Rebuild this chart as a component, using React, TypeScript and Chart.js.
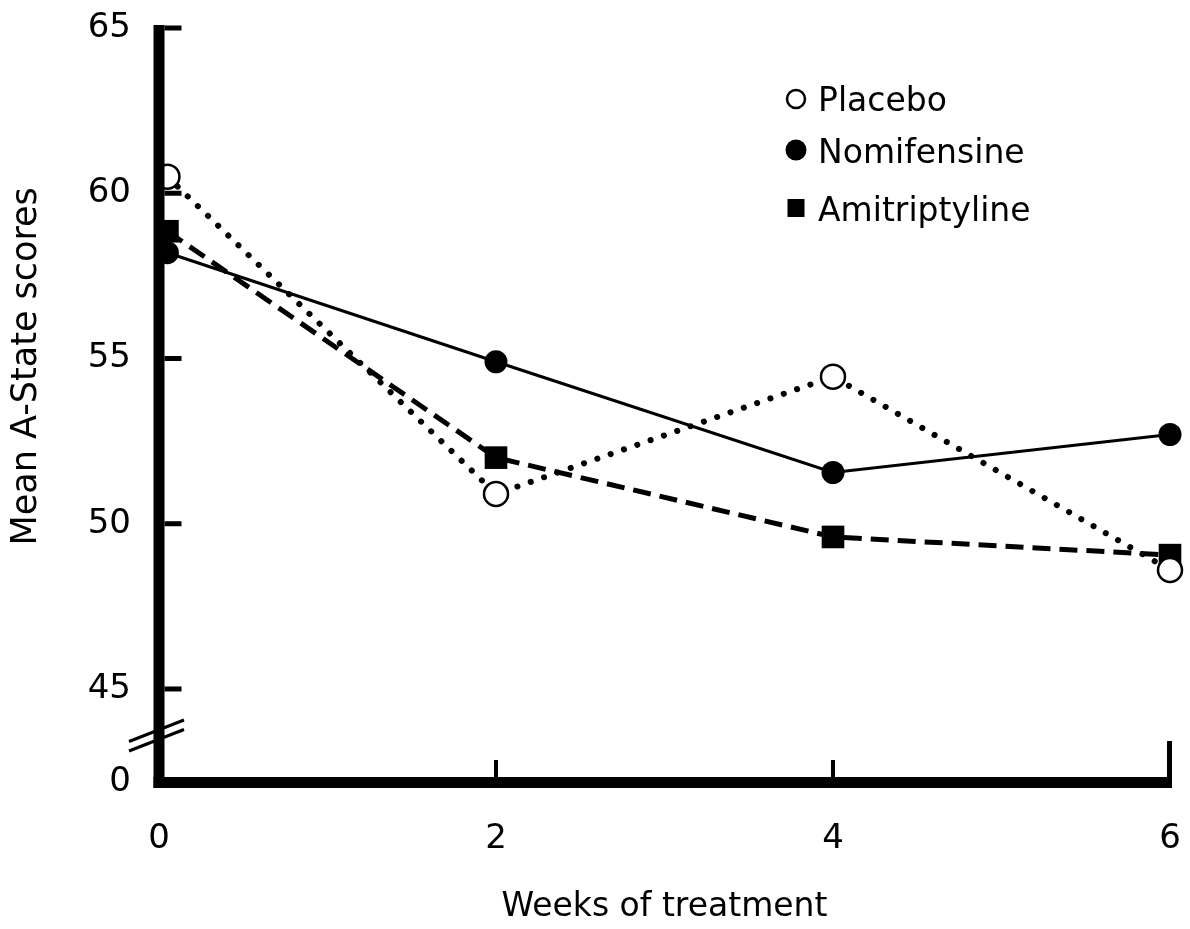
import React, { useEffect, useRef } from 'react';
import { Chart, registerables } from 'chart.js';

Chart.register(...registerables);

// ---- data ----
const weeks = [0.05, 2, 4, 6];
const placebo = [60.5, 50.9, 54.45, 48.6];
const nomifensine = [58.2, 54.9, 51.55, 52.7];
const amitriptyline = [58.85, 52.0, 49.6, 49.05];
const seriesLabels = ['Placebo', 'Nomifensine', 'Amitriptyline'];
const xTicks = [0, 2, 4, 6];
const yTicks = [45, 50, 55, 60, 65];
const yAxisBottom = 42.17; // bottom of the broken axis, labelled "0"
const yBreakLabel = '0';
const yBreakAt = 43.6;
const xTitle = 'Weeks of treatment';
const yTitle = 'Mean A-State scores';

const FONT = 'DejaVu Sans';

const axesPlugin = {
  id: 'brokenAxes',
  afterDatasetsDraw(chart: any) {
    const { ctx } = chart;
    const x = chart.scales.x;
    const y = chart.scales.y;
    const x0 = x.getPixelForValue(xTicks[0]);
    const xEnd = x.getPixelForValue(xTicks[xTicks.length - 1]);
    const yTop = y.getPixelForValue(yTicks[yTicks.length - 1]);
    const yBot = y.getPixelForValue(yAxisBottom);
    const aw = 11;
    ctx.save();
    ctx.fillStyle = '#000';
    // vertical axis
    ctx.fillRect(x0 - aw / 2, yTop - 3, aw, yBot - yTop + 3 + aw / 2);
    // horizontal axis
    ctx.fillRect(x0 - aw / 2, yBot - aw / 2, xEnd + 2 - (x0 - aw / 2), aw);
    // inward y ticks
    yTicks.forEach((v) => {
      const py = y.getPixelForValue(v);
      ctx.fillRect(x0 + aw / 2, py - 2.5, 17, 5);
    });
    // upward x ticks
    const xt = xTicks.slice(1);
    xt.forEach((v, i) => {
      const px = x.getPixelForValue(v);
      const last = i === xt.length - 1;
      const h = last ? 36 : 17;
      const w = last ? 5 : 4;
      ctx.fillRect(last ? px + 2 - w : px - w / 2, yBot - aw / 2 - h, w, h);
    });
    // axis break marks
    const yb = y.getPixelForValue(yBreakAt);
    ctx.strokeStyle = '#000';
    ctx.lineWidth = 3;
    [-4.75, 4.75].forEach((o) => {
      ctx.beginPath();
      ctx.moveTo(x0 - 30, yb + o + 11);
      ctx.lineTo(x0 + 25, yb + o - 10.5);
      ctx.stroke();
    });
    ctx.restore();
  },
};

const legendPlugin = {
  id: 'insetLegend',
  afterDraw(chart: any) {
    const { ctx } = chart;
    const mx = 796;
    const tx = 818;
    const rows = [99, 151, 209];
    ctx.save();
    ctx.font = `33px "${FONT}"`;
    ctx.textBaseline = 'middle';
    ctx.textAlign = 'left';
    ctx.fillStyle = '#000';
    ctx.strokeStyle = '#000';
    // open circle
    ctx.lineWidth = 2.5;
    ctx.beginPath();
    ctx.arc(mx, rows[0], 9, 0, Math.PI * 2);
    ctx.stroke();
    // filled circle
    ctx.beginPath();
    ctx.arc(mx, rows[1] - 1, 10.5, 0, Math.PI * 2);
    ctx.fill();
    // filled square
    ctx.fillRect(mx - 8.5, rows[2] - 10, 17, 18);
    seriesLabels.forEach((t, i) => ctx.fillText(t, tx, rows[i] + 3));
    ctx.restore();
  },
};

export default function App() {
  const ref = useRef<HTMLCanvasElement | null>(null);

  useEffect(() => {
    if (!ref.current) return;
    const pts = (vals: number[]) => vals.map((v, i) => ({ x: weeks[i], y: v }));
    const chart = new Chart(ref.current, {
      type: 'line',
      data: {
        datasets: [
          {
            label: seriesLabels[0],
            data: pts(placebo),
            borderColor: '#000',
            borderWidth: 6,
            borderDash: [0.1, 14],
            borderCapStyle: 'round',
            pointStyle: 'circle',
            pointRadius: 12,
            pointBackgroundColor: '#fff',
            pointBorderColor: '#000',
            pointBorderWidth: 2.5,
            tension: 0,
            clip: false,
          } as any,
          {
            label: seriesLabels[1],
            data: pts(nomifensine),
            borderColor: '#000',
            borderWidth: 3,
            pointStyle: 'circle',
            pointRadius: 11.5,
            pointBackgroundColor: '#000',
            pointBorderColor: '#000',
            pointBorderWidth: 0,
            tension: 0,
            clip: false,
          } as any,
          {
            label: seriesLabels[2],
            data: pts(amitriptyline),
            borderColor: '#000',
            borderWidth: 5,
            borderDash: [18, 9],
            pointStyle: 'rect',
            pointRadius: 16,
            pointBackgroundColor: '#000',
            pointBorderColor: '#000',
            pointBorderWidth: 0,
            tension: 0,
            clip: false,
          } as any,
        ],
      },
      options: {
        responsive: false,
        animation: false,
        layout: { padding: { top: 28, right: 20, left: 0, bottom: 0 } },
        plugins: { legend: { display: false }, tooltip: { enabled: false } },
        scales: {
          x: {
            type: 'linear',
            min: xTicks[0],
            max: xTicks[xTicks.length - 1],
            afterBuildTicks: (s: any) => {
              s.ticks = xTicks.map((v) => ({ value: v }));
            },
            grid: { display: false, drawTicks: false },
            border: { display: false },
            ticks: {
              color: '#000',
              font: { family: FONT, size: 34 },
              padding: 36,
              maxRotation: 0,
              autoSkip: false,
              callback: (v: any) => String(v),
            },
            title: {
              display: true,
              text: xTitle,
              color: '#000',
              font: { family: FONT, size: 33 },
              padding: { top: 0, bottom: 2 },
            },
            afterFit: (s: any) => {
              s.height = 146.5;
              s.paddingLeft = 0;
              s.paddingRight = 0;
            },
          },
          y: {
            type: 'linear',
            min: yAxisBottom,
            max: yTicks[yTicks.length - 1],
            afterBuildTicks: (s: any) => {
              s.ticks = [yAxisBottom, ...yTicks].map((v) => ({ value: v }));
            },
            grid: { display: false, drawTicks: false },
            border: { display: false },
            ticks: {
              color: '#000',
              font: { family: FONT, size: 34 },
              padding: 28,
              autoSkip: false,
              callback: (v: any) => (v < yTicks[0] ? yBreakLabel : String(v)),
            },
            title: {
              display: true,
              text: '       ' + yTitle,
              color: '#000',
              font: { family: FONT, size: 35 },
              padding: { top: 6, bottom: 0 },
            },
            afterFit: (s: any) => {
              s.width = 159;
              s.paddingTop = 0;
              s.paddingBottom = 0;
            },
          },
        },
      } as any,
      plugins: [axesPlugin, legendPlugin],
    });
    return () => chart.destroy();
  }, []);

  return (
    <div style={{ position: 'absolute', left: 0, top: 0, width: 1190, height: 929, background: '#fff' }}>
      <canvas ref={ref} width={1190} height={929} style={{ display: 'block' }} />
    </div>
  );
}
